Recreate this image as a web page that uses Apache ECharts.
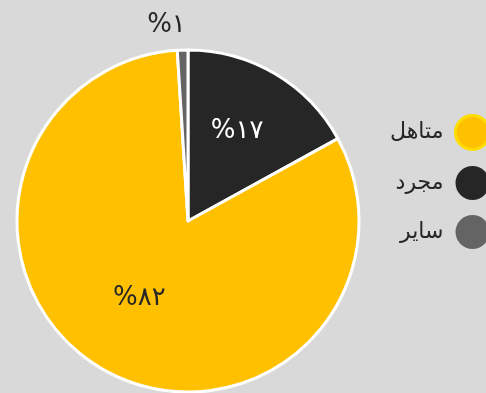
<!DOCTYPE html>
<html>
<head>
<meta charset="utf-8">
<script src="https://cdn.jsdelivr.net/npm/echarts@6/dist/echarts.min.js"></script>
<style>
  html, body { margin: 0; padding: 0; background: #d9d9d9; }
  #chart { width: 486px; height: 393px; }
</style>
</head>
<body>
<div id="chart"></div>
<script>
// Marital status shares
const categories = ['مجرد', 'متاهل', 'ساير'];
const values = [17, 82, 1];
const legendOrder = ['متاهل', 'مجرد', 'ساير'];

const colors = { 'مجرد': '#262626', 'متاهل': '#ffc000', 'ساير': '#646464' };
const FONT = "'DejaVu Sans', sans-serif";

const persianDigits = '۰۱۲۳۴۵۶۷۸۹';
const toPersian = n => String(n).replace(/[0-9]/g, d => persianDigits[+d]);

// per-slice label styling
const labelStyles = {
  'مجرد': { position: 'inside', color: '#ffffff', offset: [4, -14] },
  'متاهل': { position: 'inside', color: '#262626', offset: [-6, 0] },
  'ساير': { position: 'outside', color: '#262626', offset: [9, 1] }
};

const chart = echarts.init(document.getElementById('chart'), null, { renderer: 'canvas' });

chart.setOption({
  backgroundColor: '#d9d9d9',
  animation: false,
  legend: {
    orient: 'vertical',
    right: -10,
    top: 109,
    align: 'right',
    icon: 'circle',
    itemWidth: 34,
    itemHeight: 34,
    itemGap: 15,
    itemStyle: { borderWidth: 0 },
    textStyle: { fontFamily: FONT, fontSize: 22, color: '#262626', padding: [0, 7, 0, 0] },
    data: legendOrder.map(name => name === 'متاهل'
      ? { name, itemStyle: { borderColor: '#ffdd00', borderWidth: 3 } }
      : { name })
  },
  series: [{
    type: 'pie',
    center: [188, 221],
    radius: 171,
    startAngle: 90,
    clockwise: true,
    itemStyle: { borderColor: '#ffffff', borderWidth: 3 },
    labelLine: { show: false, length: 26, length2: 0 },
    label: {
      fontFamily: FONT,
      fontSize: 26,
      formatter: p => '%' + toPersian(Math.round(p.value))
    },
    emphasis: { disabled: true },
    data: categories.map((name, i) => ({
      name,
      value: values[i],
      itemStyle: { color: colors[name] },
      label: labelStyles[name]
    }))
  }]
});
</script>
</body>
</html>
